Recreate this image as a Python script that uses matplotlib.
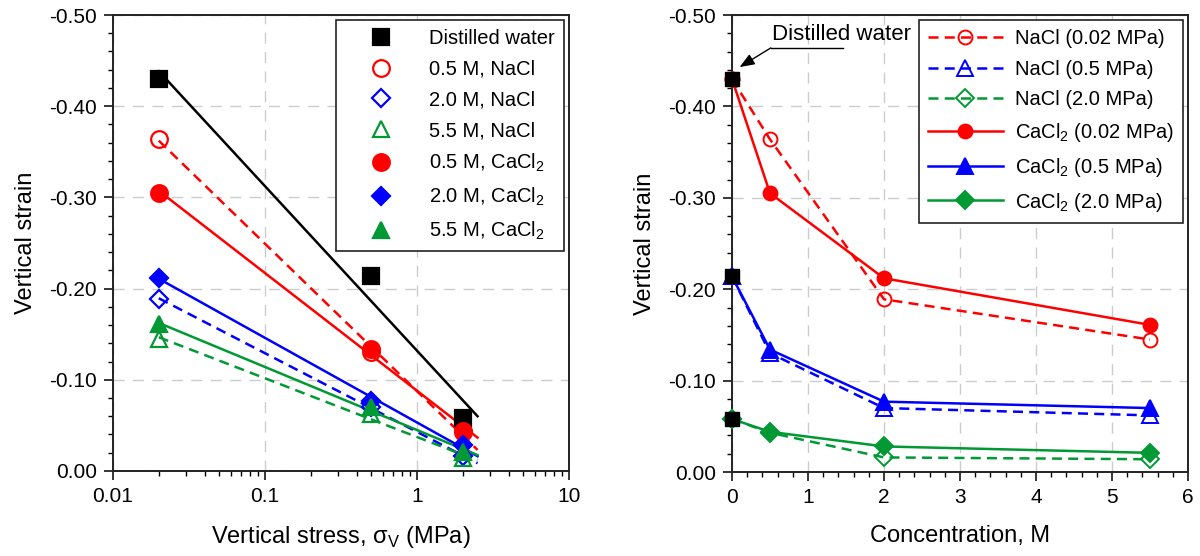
import numpy as np
import matplotlib
matplotlib.use('Agg')
import matplotlib.pyplot as plt
from matplotlib.ticker import MultipleLocator, FormatStrFormatter, NullFormatter

plt.rcParams['font.family'] = ['Liberation Sans', 'DejaVu Sans']
plt.rcParams['axes.unicode_minus'] = False
plt.rcParams['mathtext.fontset'] = 'custom'
plt.rcParams['mathtext.rm'] = 'Liberation Sans'

# vertical stress (MPa) and concentration (M)
stress = [0.02, 0.5, 2.0]
conc = [0, 0.5, 2.0, 5.5]

# vertical strain vs stress (left panel)
water = [-0.430, -0.214, -0.058]
nacl_05 = [-0.364, -0.130, -0.043]
nacl_20 = [-0.189, -0.070, -0.016]
nacl_55 = [-0.145, -0.062, -0.014]
cacl_05 = [-0.305, -0.134, -0.044]
cacl_20 = [-0.212, -0.077, -0.028]
cacl_55 = [-0.161, -0.070, -0.021]

# vertical strain vs concentration (right panel), first point = distilled water
nacl_p002 = [-0.430, -0.364, -0.189, -0.145]
nacl_p05 = [-0.214, -0.130, -0.070, -0.062]
nacl_p20 = [-0.058, -0.043, -0.016, -0.014]
cacl_p002 = [-0.430, -0.305, -0.212, -0.161]
cacl_p05 = [-0.214, -0.134, -0.077, -0.070]
cacl_p20 = [-0.058, -0.044, -0.028, -0.021]

RED = '#ff0000'
BLUE = '#0000ff'
GREEN = '#009933'
FS = 15
LFS = 14.5
DASH = (4, 2.5)

fig = plt.figure(figsize=(12, 5.56), dpi=100)
ax1 = fig.add_axes([0.0942, 0.153, 0.380, 0.820])
ax2 = fig.add_axes([0.610, 0.151, 0.380, 0.822])


def style_axes(ax):
    for s in ax.spines.values():
        s.set_linewidth(1.4)
        s.set_color('#222222')
    ax.tick_params(which='major', direction='out', length=6.5, width=1.1, labelsize=FS, pad=5)
    ax.tick_params(which='minor', direction='out', length=3.5, width=1.0)
    ax.grid(True, which='major', color='#cccccc', linestyle=(0, (8, 6)), linewidth=1.0)
    ax.set_axisbelow(True)
    ax.set_ylim(0, -0.5)
    ax.yaxis.set_major_locator(MultipleLocator(0.1))
    ax.yaxis.set_minor_locator(MultipleLocator(0.02))
    ax.yaxis.set_major_formatter(FormatStrFormatter('%.2f'))
    ax.set_ylabel('Vertical strain', fontsize=17, labelpad=9)


# ---------- left panel ----------
style_axes(ax1)
ax1.set_xscale('log')
ax1.set_xlim(0.01, 10)
ax1.xaxis.set_major_formatter(FormatStrFormatter('%g'))
ax1.xaxis.set_minor_formatter(NullFormatter())
ax1.set_xlabel('Vertical stress, \u03c3$_\\mathregular{V}$ (MPa)', fontsize=17, labelpad=13)

xfit = np.array([0.02, 2.5])
series = [
    (water, 'k', '-', 's', 'k', 'Distilled water'),
    (nacl_05, RED, '--', 'o', 'none', '0.5 M, NaCl'),
    (nacl_20, BLUE, '--', 'D', 'none', '2.0 M, NaCl'),
    (nacl_55, GREEN, '--', '^', 'none', '5.5 M, NaCl'),
    (cacl_05, RED, '-', 'o', RED, '0.5 M, CaCl$_\\mathregular{2}$'),
    (cacl_20, BLUE, '-', 'D', BLUE, '2.0 M, CaCl$_\\mathregular{2}$'),
    (cacl_55, GREEN, '-', '^', GREEN, '5.5 M, CaCl$_\\mathregular{2}$'),
]
sizes = {'s': 11, 'o': 12, 'D': 9.5, '^': 12}
handles = []
for vals, c, ls, m, fc, lab in series:
    k, b = np.polyfit(np.log10(stress), vals, 1)
    ax1.plot(xfit, k * np.log10(xfit) + b, color=c, linestyle=ls, lw=1.8,
             dashes=DASH if ls == '--' else (None, None), zorder=3)
for vals, c, ls, m, fc, lab in series:
    h, = ax1.plot(stress, vals, linestyle='none', marker=m, ms=sizes[m],
                  mfc=fc, mec=c, mew=1.6, zorder=4, label=lab)
    handles.append(h)
leg1 = ax1.legend(handles=handles, loc='upper right', fontsize=LFS, frameon=True,
                  fancybox=False, edgecolor='#222222', framealpha=1,
                  handlelength=3.6, handletextpad=0.6, borderpad=0.45,
                  labelspacing=0.58, borderaxespad=0.25, numpoints=1)
leg1.get_frame().set_linewidth(1.2)

# ---------- right panel ----------
style_axes(ax2)
ax2.set_xlim(0, 6)
ax2.xaxis.set_major_locator(MultipleLocator(1))
ax2.xaxis.set_minor_locator(MultipleLocator(0.2))
ax2.set_xlabel('Concentration, M', fontsize=17, labelpad=13)

series2 = [
    (nacl_p002, RED, '--', 'o', 'none', 'NaCl (0.02 MPa)'),
    (nacl_p05, BLUE, '--', '^', 'none', 'NaCl (0.5 MPa)'),
    (nacl_p20, GREEN, '--', 'D', 'none', 'NaCl (2.0 MPa)'),
    (cacl_p002, RED, '-', 'o', RED, 'CaCl$_\\mathregular{2}$ (0.02 MPa)'),
    (cacl_p05, BLUE, '-', '^', BLUE, 'CaCl$_\\mathregular{2}$ (0.5 MPa)'),
    (cacl_p20, GREEN, '-', 'D', GREEN, 'CaCl$_\\mathregular{2}$ (2.0 MPa)'),
]
sizes2 = {'o': 10, 'D': 9, '^': 11}
handles2 = []
for vals, c, ls, m, fc, lab in series2:
    h, = ax2.plot(conc, vals, color=c, linestyle=ls, lw=1.8,
                  dashes=DASH if ls == '--' else (None, None),
                  marker=m, ms=sizes2[m], mfc=fc, mec=c, mew=1.4,
                  zorder=3, clip_on=False, label=lab)
    handles2.append(h)
ax2.plot([conc[0]] * 3, water, linestyle='none', marker='s', ms=10, color='k',
         zorder=5, clip_on=False)
leg2 = ax2.legend(handles=handles2, loc='upper right', fontsize=LFS, frameon=True,
                  fancybox=False, edgecolor='#222222', framealpha=1,
                  handlelength=3.7, handletextpad=0.6, borderpad=0.45,
                  labelspacing=0.58, borderaxespad=0.25, numpoints=1)
leg2.get_frame().set_linewidth(1.2)

# annotation for distilled water
ax2.annotate('', xy=(0.1, -0.443), xytext=(0.51, -0.464),
             arrowprops=dict(arrowstyle='-|>,head_width=0.35,head_length=0.9',
                             color='k', lw=1.0, shrinkA=0, shrinkB=0))
ax2.plot([0.51, 1.46], [-0.464, -0.464], color='k', lw=1.0)
ax2.text(0.53, -0.467, 'Distilled water', fontsize=16, ha='left', va='bottom')

fig.savefig('out.png', dpi=100)
